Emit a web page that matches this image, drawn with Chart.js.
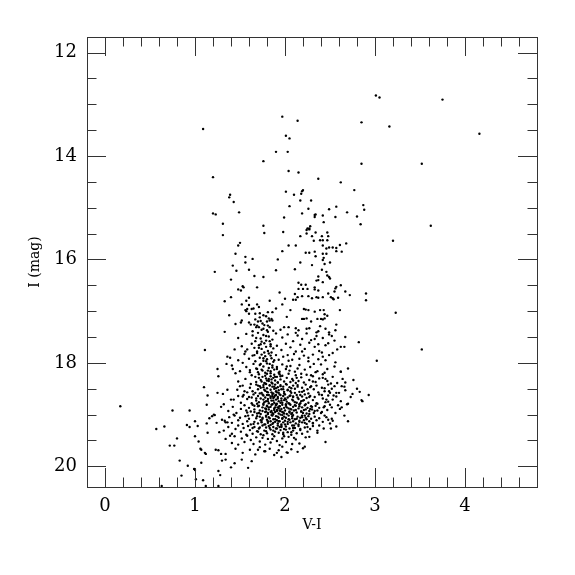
<!DOCTYPE html>
<html>
<head>
<meta charset="utf-8">
<title>I vs V-I</title>
<script src="https://cdn.jsdelivr.net/npm/chart.js@4.4.1/dist/chart.umd.min.js"></script>
<style>
  html, body { margin: 0; padding: 0; background: #fff; }
  #wrap { width: 575px; height: 575px; }
</style>
</head>
<body>
<div id="wrap"><canvas id="cmd"></canvas></div>
<script>
// axis labels / ticks
const X_TITLE = "V-I";
const Y_TITLE = "I (mag)";
const X_TICKS = [0, 1, 2, 3, 4];
const Y_TICKS = [12, 14, 16, 18, 20];

// stars as [V-I, I]
const brightStars = [
  [3.01,12.83],[3.05,12.87],[3.75,12.91],[1.97,13.24],[2.14,13.32],[2.85,13.35],[3.16,13.43],
  [1.09,13.48],[4.16,13.57],[2.01,13.61],[2.05,13.66],[1.90,13.92],[2.03,13.92],[1.76,14.10],
  [2.85,14.15],[3.52,14.15],[2.04,14.29],[2.15,14.32],[1.20,14.41],[2.37,14.44],[2.62,14.51],
  [2.77,14.66],[2.01,14.69],[2.20,14.66],[2.19,14.68],[2.18,14.73],[2.10,14.75],[1.39,14.75],
  [1.38,14.80],[1.43,14.89],[2.29,14.86],[2.17,14.86],[2.05,14.97],[2.57,14.98],[2.87,14.95]
];

const upperGiants = [
  [2.26,15.02],[2.49,15.03],[2.88,15.04],[2.69,15.09],[2.80,15.17],[1.49,15.09],[1.20,15.11],
  [1.23,15.13],[2.19,15.11],[2.33,15.14],[2.34,15.13],[2.33,15.18],[2.42,15.15],[2.56,15.18],
  [1.99,15.19],[2.43,15.28],[1.31,15.31],[1.76,15.35],[2.28,15.36],[2.25,15.40],[2.27,15.40],
  [2.84,15.32],[3.62,15.35],[1.31,15.53],[1.77,15.49],[1.98,15.47],[2.27,15.42],[2.24,15.43],
  [2.24,15.50],[2.34,15.48],[2.47,15.48],[2.17,15.55],[2.30,15.55],[2.41,15.55],[2.48,15.55],
  [2.39,15.63],[2.42,15.63],[2.47,15.63],[2.32,15.64],[3.20,15.64],[1.50,15.68],[1.48,15.73],
  [2.04,15.73],[2.12,15.73],[2.42,15.73],[2.61,15.72],[2.68,15.69],[2.46,15.79],[2.49,15.77],
  [2.53,15.77],[2.57,15.78],[2.57,15.84],[2.63,15.85],[1.97,15.84],[2.23,15.87],[2.27,15.87],
  [2.33,15.85],[1.45,15.89],[2.42,15.89],[2.46,15.89],[2.34,15.94],[1.56,15.95],[1.64,15.99],
  [1.92,16.00],[2.43,15.97]
];

const giantBranch = [
  [2.42,16.01],[1.56,16.06],[2.17,16.06],[2.30,16.11],[2.44,16.09],[2.50,16.06],[1.42,16.12],
  [1.22,16.24],[1.46,16.22],[1.60,16.20],[1.90,16.21],[2.11,16.19],[2.41,16.20],[2.46,16.24],
  [2.47,16.31],[1.66,16.32],[1.76,16.34],[2.37,16.33],[2.49,16.34],[2.50,16.37],[1.40,16.39],
  [2.35,16.41],[2.37,16.40],[2.42,16.44],[2.15,16.45],[2.18,16.49],[2.23,16.49],[1.53,16.52],
  [1.54,16.54],[1.69,16.54],[2.57,16.53],[2.56,16.56],[2.62,16.50],[1.48,16.58],[1.51,16.60],
  [2.15,16.57],[2.20,16.57],[2.25,16.57],[2.33,16.54],[2.33,16.58],[2.37,16.60],[1.94,16.64],
  [2.55,16.62],[2.67,16.62],[2.11,16.67],[2.48,16.66],[2.90,16.66],[2.72,16.69],[2.14,16.73],
  [2.19,16.71],[2.26,16.71],[2.30,16.75],[2.35,16.73],[2.37,16.74],[2.42,16.73],[2.51,16.73],
  [2.53,16.75],[2.54,16.77],[2.59,16.74],[1.40,16.73],[2.00,16.76],[2.09,16.78],[2.12,16.78],
  [1.33,16.81],[1.57,16.80],[1.60,16.74],[1.83,16.80],[2.90,16.79],[1.52,16.87],[1.60,16.88],
  [1.69,16.87],[1.97,16.87],[2.61,16.98],[1.58,16.96],[1.56,16.98],[1.57,17.00],[1.63,16.96],
  [1.65,16.95],[1.71,16.92],[1.90,16.95],[2.06,16.98],[2.21,16.96],[2.23,16.97],[2.26,16.98],
  [2.33,17.01],[2.39,16.98],[2.43,16.98],[1.81,17.02],[1.86,17.02],[1.60,17.05],[1.67,17.05],
  [1.72,17.04],[2.02,17.11],[2.19,17.15],[2.21,17.15],[2.24,17.14],[2.29,17.20],[2.40,17.15],
  [2.42,17.16],[2.44,17.14],[1.52,17.18],[1.51,17.22],[1.60,17.22],[1.62,17.26],[1.67,17.16],
  [1.66,17.26],[1.69,17.28],[1.68,17.31],[1.71,17.31],[1.73,17.19],[1.75,17.24],[1.82,17.14],
  [1.83,17.18],[1.86,17.18],[1.85,17.15],[1.81,17.28],[1.83,17.31],[1.99,17.31],[2.04,17.31],
  [2.12,17.33],[2.15,17.37],[2.12,17.42],[2.24,17.34],[2.27,17.33],[2.35,17.41],[2.37,17.39],
  [2.45,17.34],[2.56,17.37],[2.44,17.06],[2.49,17.41],[1.70,17.20],[1.74,17.36],[1.77,17.27],
  [1.79,17.10],[1.80,17.37],[1.76,17.08],[1.95,17.36],[1.64,17.39],[3.23,17.03],[1.38,17.08],
  [1.45,17.25],[1.33,17.40]
];

const lowerGiants = [
  [1.48,17.52],[1.57,17.44],[1.64,17.47],[1.67,17.58],[1.70,17.42],[1.73,17.53],[1.76,17.46],
  [1.79,17.57],[1.82,17.49],[1.86,17.55],[1.90,17.43],[1.97,17.51],[2.03,17.45],[2.09,17.58],
  [2.14,17.47],[2.19,17.54],[2.24,17.43],[2.29,17.56],[2.35,17.48],[2.42,17.52],[2.49,17.45],
  [2.55,17.57],[2.67,17.50],
  [1.11,17.75],[1.52,17.68],[1.58,17.74],[1.63,17.63],[1.66,17.71],[1.69,17.78],[1.71,17.66],
  [1.74,17.73],[1.77,17.62],[1.79,17.69],[1.81,17.77],[1.84,17.64],[1.87,17.72],[1.91,17.67],
  [1.96,17.75],[2.01,17.63],[2.06,17.70],[2.12,17.78],[2.17,17.65],[2.22,17.73],[2.27,17.61],
  [2.33,17.69],[2.38,17.77],[2.45,17.66],[2.58,17.74],[2.62,17.69],[2.66,17.69],[2.82,17.60],
  [3.52,17.74],
  [1.36,17.88],[1.48,17.95],[1.55,17.83],[1.60,17.92],[1.64,17.86],[1.67,17.97],[1.69,17.81],
  [1.72,17.90],[1.74,17.84],[1.76,17.96],[1.78,17.87],[1.80,17.93],[1.82,17.82],[1.85,17.91],
  [1.87,17.98],[1.90,17.85],[1.93,17.94],[1.98,17.88],[2.04,17.96],[2.10,17.83],[2.16,17.92],
  [2.21,17.86],[2.26,17.97],[2.31,17.84],[2.37,17.93],[2.42,17.88],[2.45,17.95],[2.49,17.85],
  [2.53,17.81],[2.56,17.99],[3.02,17.96],
  [1.25,18.12],[1.41,18.05],[1.50,18.16],[1.57,18.08],[1.61,18.14],[1.65,18.02],[1.68,18.11],
  [1.70,18.18],[1.72,18.04],[1.74,18.13],[1.76,18.07],[1.78,18.19],[1.80,18.01],[1.82,18.10],
  [1.84,18.16],[1.86,18.05],[1.88,18.13],[1.91,18.08],[1.94,18.17],[1.97,18.03],[2.01,18.12],
  [2.06,18.06],[2.11,18.17],[2.16,18.04],[2.22,18.13],[2.28,18.08],[2.34,18.18],[2.40,18.03],
  [2.47,18.12],[2.55,18.07],[2.62,18.17],[2.70,18.11]
];

const clumpUpper = [
  [1.56,18.31],[1.63,18.24],[1.68,18.37],[1.71,18.22],[1.73,18.33],[1.75,18.27],[1.77,18.39],
  [1.79,18.30],[1.80,18.21],[1.82,18.35],[1.84,18.26],[1.85,18.38],[1.87,18.29],[1.88,18.23],
  [1.89,18.34],[1.91,18.27],[1.92,18.38],[1.94,18.22],[1.95,18.32],[1.97,18.25],[1.99,18.36],
  [2.02,18.29],[2.04,18.21],[2.06,18.37],[2.08,18.31],[2.12,18.24],[2.15,18.35],[2.18,18.28],
  [2.21,18.38],[2.24,18.23],[2.27,18.33],[2.31,18.26],[2.34,18.37],[2.38,18.30],[2.42,18.22],
  [2.47,18.35],[2.53,18.27],[2.58,18.39],[2.64,18.31],
  [1.47,18.52],[1.53,18.44],[1.58,18.57],[1.61,18.48],[1.64,18.55],[1.68,18.42],[1.70,18.51],
  [1.72,18.45],[1.74,18.58],[1.76,18.47],[1.78,18.54],[1.79,18.41],[1.80,18.49],[1.81,18.57],
  [1.83,18.43],[1.84,18.52],[1.86,18.46],[1.87,18.59],[1.88,18.50],[1.89,18.42],[1.90,18.55],
  [1.92,18.47],[1.93,18.58],[1.95,18.43],[1.96,18.51],[1.98,18.46],[1.99,18.56],[2.01,18.41],
  [2.03,18.53],[2.05,18.47],[2.07,18.58],[2.09,18.44],[2.11,18.50],[2.14,18.43],[2.16,18.56],
  [2.19,18.48],[2.21,18.54],[2.23,18.42],[2.26,18.59],[2.28,18.47],[2.32,18.51],[2.35,18.44],
  [2.37,18.57],[2.41,18.48],[2.44,18.55],[2.48,18.42],[2.52,18.50],[2.57,18.58],[2.63,18.45],
  [1.43,18.71],[1.48,18.64],[1.51,18.77],[1.54,18.62],[1.58,18.70],[1.60,18.66],[1.63,18.78],
  [1.65,18.61],[1.68,18.73],[1.70,18.64],[1.71,18.76],[1.73,18.69],[1.75,18.61],[1.76,18.79],
  [1.78,18.67],[1.79,18.74],[1.80,18.62],[1.81,18.70],[1.82,18.78],[1.84,18.65],[1.85,18.73],
  [1.86,18.60],[1.87,18.68],[1.88,18.77],[1.89,18.63],[1.90,18.71],[1.91,18.79],[1.92,18.66],
  [1.93,18.74],[1.95,18.62],[1.96,18.69],[1.97,18.77],[1.98,18.64],[1.99,18.72],[2.00,18.61],
  [2.02,18.75],[2.03,18.67],[2.05,18.79],[2.06,18.63],[2.08,18.71],[2.09,18.66],[2.11,18.76],
  [2.13,18.62],[2.15,18.70],[2.17,18.78],[2.19,18.65],[2.20,18.73],[2.22,18.61],[2.24,18.68],
  [2.26,18.77],[2.28,18.64],[2.31,18.72],[2.33,18.66],[2.36,18.79],[2.38,18.61],[2.42,18.69],
  [2.45,18.76],[2.48,18.63],[2.53,18.71],[2.57,18.65],[2.62,18.74]
];

const clumpLower = [
  [1.37,18.93],[1.42,18.85],[1.46,18.97],[1.51,18.89],[1.55,18.82],[1.58,18.96],[1.60,18.87],
  [1.62,18.94],[1.64,18.81],[1.66,18.90],[1.69,18.98],[1.70,18.84],[1.72,18.92],[1.73,18.99],
  [1.75,18.86],[1.76,18.81],[1.78,18.95],[1.79,18.89],[1.80,18.83],[1.81,18.97],[1.82,18.90],
  [1.84,18.85],[1.85,18.93],[1.86,18.80],[1.87,18.99],[1.88,18.88],[1.89,18.95],[1.90,18.82],
  [1.91,18.91],[1.92,18.86],[1.93,18.98],[1.94,18.84],[1.95,18.93],[1.96,18.89],[1.97,18.81],
  [1.98,18.96],[1.99,18.87],[2.00,18.92],[2.01,18.83],[2.02,18.99],[2.04,18.88],[2.05,18.94],
  [2.06,18.81],[2.07,18.90],[2.08,18.97],[2.09,18.85],[2.10,18.92],[2.12,18.83],[2.13,18.96],
  [2.15,18.88],[2.16,18.80],[2.18,18.94],[2.19,18.86],[2.21,18.91],[2.22,18.82],[2.24,18.98],
  [2.25,18.87],[2.27,18.93],[2.29,18.84],[2.30,18.90],[2.32,18.97],[2.34,18.83],[2.36,18.92],
  [2.38,18.87],[2.41,18.95],[2.44,18.84],[2.47,18.91],[2.52,18.86],[2.56,18.97],[2.61,18.89],
  [1.33,19.12],[1.38,19.05],[1.41,19.16],[1.44,19.02],[1.48,19.11],[1.50,19.06],[1.53,19.18],
  [1.56,19.03],[1.58,19.13],[1.60,19.08],[1.62,19.19],[1.64,19.01],[1.66,19.14],[1.68,19.07],
  [1.70,19.17],[1.72,19.04],[1.74,19.12],[1.75,19.08],[1.77,19.19],[1.79,19.02],[1.80,19.10],
  [1.81,19.16],[1.82,19.05],[1.84,19.13],[1.85,19.01],[1.86,19.18],[1.87,19.09],[1.89,19.14],
  [1.90,19.03],[1.91,19.11],[1.92,19.17],[1.93,19.06],[1.94,19.13],[1.95,19.00],[1.96,19.19],
  [1.97,19.08],[1.98,19.15],[1.99,19.04],[2.00,19.12],[2.01,19.06],[2.03,19.18],[2.04,19.02],
  [2.05,19.10],[2.06,19.15],[2.08,19.07],[2.09,19.13],[2.09,19.01],[2.11,19.09],[2.12,19.17],
  [2.14,19.04],[2.16,19.12],[2.17,19.06],[2.19,19.15],[2.19,19.02],[2.21,19.11],[2.23,19.06],
  [2.24,19.18],[2.26,19.03],[2.27,19.13],[2.29,19.08],[2.31,19.16],[2.33,19.04],[2.35,19.11],
  [2.38,19.07],[2.42,19.14],[2.46,19.05],[2.53,19.12],
  [1.32,19.31],[1.37,19.24],[1.41,19.37],[1.45,19.28],[1.48,19.21],[1.51,19.33],[1.54,19.26],
  [1.57,19.39],[1.59,19.22],[1.61,19.30],[1.64,19.37],[1.66,19.24],[1.69,19.32],[1.71,19.27],
  [1.73,19.38],[1.75,19.21],[1.77,19.31],[1.79,19.25],[1.80,19.36],[1.82,19.22],[1.84,19.29],
  [1.86,19.38],[1.87,19.24],[1.89,19.33],[1.90,19.27],[1.92,19.21],[1.93,19.35],[1.95,19.30],
  [1.96,19.24],[1.98,19.38],[1.99,19.28],[2.01,19.23],[2.03,19.34],[2.05,19.27],[2.07,19.39],
  [2.08,19.21],[2.09,19.31],[2.11,19.26],[2.13,19.36],[2.15,19.22],[2.17,19.30],[2.19,19.37],
  [2.22,19.25],[2.25,19.33],[2.28,19.28],[2.31,19.22],[2.36,19.35],[2.43,19.27],
  [1.34,19.47],[1.41,19.55],[1.44,19.42],[1.48,19.58],[1.52,19.46],[1.55,19.53],[1.58,19.41],
  [1.62,19.49],[1.65,19.57],[1.68,19.44],[1.72,19.52],[1.75,19.45],[1.78,19.58],[1.81,19.47],
  [1.84,19.54],[1.88,19.42],[1.91,19.51],[1.94,19.59],[1.97,19.46],[2.01,19.53],[2.04,19.43],
  [2.08,19.57],[2.12,19.48],[2.16,19.56],[2.23,19.44],
  [1.45,19.66],[1.53,19.74],[1.61,19.68],[1.67,19.77],[1.72,19.63],[1.78,19.71],[1.83,19.66],
  [1.88,19.78],[1.93,19.69],[1.97,19.62],[2.03,19.74],[2.07,19.67],[2.14,19.72]
];

// extra stars filling the crowded core of the clump
const clumpCore = [
  [1.83,18.44],[1.77,18.52],[1.94,18.61],[2.07,18.49],[1.71,18.83],[1.88,18.91],[2.13,18.77],
  [1.79,19.04],[1.96,19.22],[2.02,18.86],[1.68,18.69],[1.85,18.57],[1.92,18.38],[2.18,18.94],
  [1.74,19.15],[2.09,19.26],[1.81,18.74],[1.99,18.98],[2.24,19.09],[1.66,18.95],[1.87,19.31],
  [2.05,18.64],[1.73,18.48],[1.90,18.80],[2.15,19.19],[1.78,18.88],[1.97,19.07],[2.21,18.72],
  [1.84,19.20],[2.11,18.58],[1.69,19.03],[1.93,18.53],[2.03,19.14],[1.76,18.63],[1.89,19.09],
  [2.27,18.99],[1.82,18.31],[2.00,18.69],[1.72,19.25],[2.16,18.84],[1.95,18.45],[1.86,18.97],
  [2.08,19.03],[1.80,18.56],[1.91,19.27],[2.31,19.17],[1.67,18.58],[2.04,18.78],[1.75,18.93],
  [1.98,19.35],[1.83,19.07],[2.12,18.91],[1.70,18.44],[1.88,18.66],[2.19,19.05],[1.94,18.84],
  [1.79,19.32],[2.06,18.55],[1.85,18.81],[2.23,18.80],[1.73,19.11],[1.96,18.73],[2.10,19.21],
  [1.81,18.99],[1.90,18.49],[2.01,19.29],[1.77,18.76],[2.14,18.67],[1.87,19.16],[1.99,18.59],
  [1.65,19.18],[2.28,18.89],[1.84,18.68],[2.05,18.96],[1.92,19.04],[1.74,18.36],[2.17,18.62],
  [1.89,18.86],[1.97,18.95],[2.09,18.73],[1.78,19.19],[1.93,19.13],[2.25,19.24],[1.82,18.62],
  [2.02,18.42],[1.71,18.97],[1.86,19.02],[2.13,19.08],[1.95,18.77],[1.80,18.84],[2.07,19.34],
  [1.76,18.71],[1.91,18.93],[2.20,18.97],[1.88,18.46],[2.00,19.19],[1.69,18.79],[1.84,18.95],
  [2.11,18.82],[1.94,19.24],[1.72,18.59],[2.04,19.09],[1.87,18.73],[1.98,18.51],[2.16,19.14],
  [1.79,18.94],[1.92,18.69],[2.30,18.85],[1.83,19.26],[2.06,18.89],[1.75,19.06],[1.90,18.62],
  [2.01,18.80],[1.86,18.40],[2.22,19.16],[1.97,19.01],[1.81,19.13],[2.09,18.65],[1.70,19.33],
  [1.93,18.88],[1.78,18.40],[1.84,18.20],[1.89,18.27],[1.75,18.15],[1.80,18.34],[1.93,18.19],
  [1.71,18.29],[1.86,18.09],[1.79,17.97],[1.83,18.02],[1.77,17.80],[1.74,17.59],[1.81,17.40],
  [1.72,17.12],[1.84,17.68]
];

// looser stars around the clump and the lower giant branch
const clumpOuter = [
  [2.18,18.21],[2.29,18.45],[2.36,18.16],[2.12,18.39],[2.41,18.62],[2.25,18.51],[2.33,18.93],
  [2.38,19.21],[2.17,19.28],[2.44,19.02],[2.05,18.15],[2.27,18.66],[2.13,18.29],[2.35,18.78],
  [2.22,19.02],[2.46,18.71],[2.31,18.36],[2.19,18.56],[2.40,18.97],[2.09,18.34],[1.62,18.41],
  [1.66,18.83],[1.59,19.02],[1.63,18.67],[1.57,18.92],[1.64,19.26],[1.61,18.18],[1.67,18.27],
  [1.55,18.55],[1.69,18.12],[1.76,17.91],[1.84,17.86],[1.73,18.02],[1.88,17.95],[1.81,18.15],
  [1.78,18.25],[1.91,18.12],[1.85,18.32],[1.76,18.43],[1.95,18.26],[2.02,18.07],[2.08,17.94],
  [2.14,18.11],[2.26,17.90],[2.32,18.02],[2.19,17.78],[2.37,17.64],[2.03,17.85],[2.29,18.24],
  [2.44,18.19],[1.79,17.48],[1.71,17.71],[1.83,17.58],[1.68,17.52],[1.76,17.34],[1.85,17.80],
  [1.80,17.20],[1.73,17.64],[1.87,17.38],[1.66,17.85],[2.39,17.29],[2.47,17.09],[2.52,17.48],
  [2.41,17.80],[2.48,17.62],[2.36,17.15],[2.57,17.26],[2.33,17.54],[2.54,18.63],[2.59,18.82],
  [2.50,19.17],[2.55,18.45],[2.36,19.31],[2.27,19.43],[1.86,19.47],[1.99,19.42],[1.76,19.40],
  [2.10,19.45],[2.14,18.46],[2.23,18.90],[2.01,18.71],[1.94,18.92],[1.86,18.64],[2.07,18.99],
  [1.91,18.57],[2.18,18.74],[1.82,18.86],[2.03,18.52]
];

const redWing = [
  [2.42,18.29],[2.45,18.31],[2.67,18.38],[2.66,18.46],[2.76,18.33],[2.51,18.40],[2.44,18.49],
  [2.49,18.55],[2.50,18.58],[2.60,18.58],[2.67,18.53],[2.75,18.60],[2.83,18.56],[2.93,18.62],
  [2.86,18.74],[2.73,18.66],[2.69,18.80],[2.48,18.75],[2.50,18.81],[2.43,18.86],[2.63,18.86],
  [2.66,19.02],[2.52,19.08],[2.70,18.79],[2.85,18.72],[2.70,19.13],[2.57,19.23],[2.51,19.27],
  [2.48,19.10],[2.45,19.53],[2.20,19.65],[2.22,19.62],[2.80,18.50],[2.62,18.17]
];

const blueTail = [
  [0.17,18.84],[0.57,19.28],[0.66,19.23],[0.75,18.92],[0.72,19.60],[0.77,19.60],[0.80,19.46],
  [0.83,19.89],[0.85,20.18],[0.92,19.99],[0.91,19.20],[0.94,19.24],[0.94,18.92],[0.99,20.05],
  [1.00,19.13],[1.00,19.42],[1.01,20.25],[1.03,19.22],[1.04,19.52],[1.07,19.68],[1.07,19.93],
  [1.09,20.27],[1.12,20.38],[1.11,19.74],[1.13,18.81],[1.13,19.17],[1.14,19.35],[1.16,19.07],
  [1.19,19.03],[1.22,19.01],[1.24,19.16],[1.23,19.68],[1.26,19.69],[1.26,20.09],[1.27,19.34],
  [1.28,20.17],[1.26,20.38],[1.30,19.10],[1.29,19.76],[1.32,18.80],[1.34,19.76],[1.34,19.87],
  [1.34,19.15],[1.36,19.15],[1.30,19.89],[1.40,20.02],[1.39,19.41],[1.43,19.00],[0.63,20.38],
  [1.10,18.47],[1.14,18.63],[1.06,19.66],[1.12,19.76],[1.00,20.07],[1.44,19.94],[1.52,19.87],
  [1.59,20.03],[1.63,19.90],[1.70,19.68],[1.77,19.71],[1.91,19.74],[1.96,19.82],[2.02,19.73],
  [1.26,18.26],[1.35,18.02],[1.42,18.12],[1.44,17.74],[1.36,18.52],[1.40,18.71],[1.29,18.85],
  [1.21,19.00],[1.48,18.36],[1.53,18.00],[1.56,17.78],[1.50,18.45],[1.53,18.65],[1.31,18.60],
  [1.25,18.58],[1.45,18.20],[1.39,17.90]
];

const allStars = [].concat(brightStars, upperGiants, giantBranch, lowerGiants,
  clumpUpper, clumpLower, clumpCore, clumpOuter, redWing, blueTail).map(([x, y]) => ({ x, y }));

const MAJOR = 19;
const MINOR = 9.5;

// inward ticks on all four sides plus the frame
const frameTicks = {
  id: "frameTicks",
  afterDraw(chart) {
    const { ctx, chartArea: a, scales } = chart;
    const sx = scales.x, sy = scales.y;
    ctx.save();
    ctx.strokeStyle = "#333";
    ctx.lineWidth = 1;
    ctx.beginPath();
    for (let k = 0; k < 24; k++) {
      const px = Math.round(sx.getPixelForValue(k / 5)) + 0.5;
      const len = k % 5 === 0 ? MAJOR : MINOR;
      ctx.moveTo(px, a.bottom); ctx.lineTo(px, a.bottom - len);
      ctx.moveTo(px, a.top); ctx.lineTo(px, a.top + len);
    }
    for (let k = 24; k <= 40; k++) {
      const py = Math.round(sy.getPixelForValue(k / 2)) + 0.5;
      const len = k % 4 === 0 ? MAJOR : MINOR;
      ctx.moveTo(a.left, py); ctx.lineTo(a.left + len, py);
      ctx.moveTo(a.right, py); ctx.lineTo(a.right - len, py);
    }
    ctx.stroke();
    ctx.strokeRect(a.left + 0.5, a.top + 0.5, a.right - a.left, a.bottom - a.top);
    ctx.restore();
  }
};

Chart.defaults.font.family = "'DejaVu Serif', serif";
Chart.defaults.color = "#000";

new Chart(document.getElementById("cmd"), {
  type: "scatter",
  data: {
    datasets: [{
      data: allStars,
      backgroundColor: "#000",
      borderWidth: 0,
      pointRadius: 1.2,
      pointHoverRadius: 1.2,
    }],
  },
  options: {
    responsive: true,
    maintainAspectRatio: false,
    animation: false,
    events: [],
    layout: { padding: { top: 37, right: 38, left: 0, bottom: 0 } },
    plugins: { legend: { display: false }, tooltip: { enabled: false } },
    scales: {
      x: {
        type: "linear",
        bounds: "data",
        min: -0.2,
        max: 4.8,
        grid: { display: false, drawTicks: false },
        border: { display: false },
        afterBuildTicks: (s) => { s.ticks = X_TICKS.map((v) => ({ value: v })); },
        afterFit: (s) => { s.height = 88; },
        ticks: { font: { size: 18 }, padding: 9, maxRotation: 0 },
        title: { display: true, text: X_TITLE, font: { size: 14 }, padding: { top: 0, bottom: 41 } },
      },
      y: {
        type: "linear",
        bounds: "data",
        reverse: true,
        min: 11.7,
        max: 20.4,
        grid: { display: false, drawTicks: false },
        border: { display: false },
        afterBuildTicks: (s) => { s.ticks = Y_TICKS.map((v) => ({ value: v })); },
        afterFit: (s) => { s.width = 87; },
        ticks: { font: { size: 18 }, padding: 10 },
        title: { display: true, text: Y_TITLE, font: { size: 14 }, padding: { top: 27, bottom: 0 } },
      },
    },
  },
  plugins: [frameTicks],
});
</script>
</body>
</html>
